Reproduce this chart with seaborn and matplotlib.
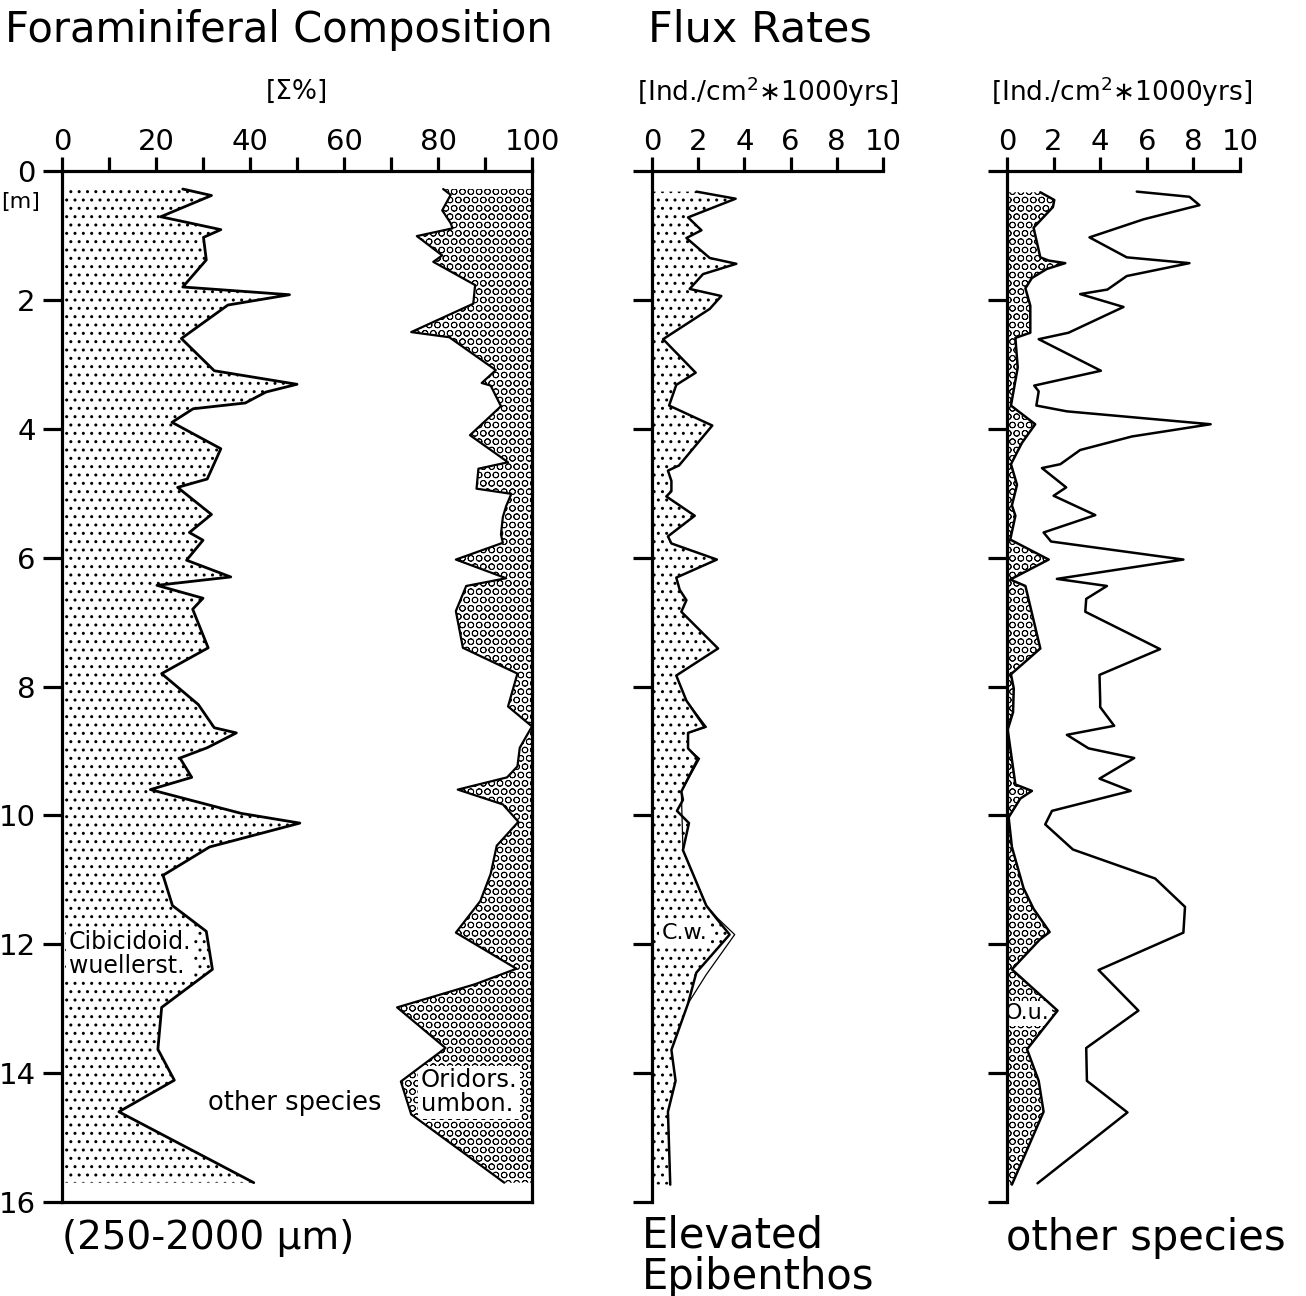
import matplotlib
matplotlib.use('Agg')
import matplotlib.pyplot as plt
import seaborn as sns

# ---- data (depth in m) ----
# Panel 1: Cibicidoides wuellerstorfi, cumulative % from 0
cib_depth = [0.28, 0.38, 0.71, 0.91, 1.03, 1.38, 1.80, 1.92, 2.08, 2.60, 3.10, 3.31, 3.43, 3.60,
             3.69, 3.90, 4.31, 4.78, 4.91, 5.33, 5.61, 5.73, 6.04, 6.30, 6.43, 6.63, 6.80, 7.40,
             7.80, 8.28, 8.64, 8.72, 8.95, 9.11, 9.41, 9.60, 9.86, 9.97, 10.12, 10.49, 10.93,
             11.40, 11.80, 12.39, 12.98, 13.63, 14.11, 14.60, 15.70]
cib_pct = [25.7, 31.8, 21.0, 33.8, 30.1, 30.7, 25.7, 48.4, 35.3, 25.4, 32.4, 50.0, 43.4, 39.0,
           27.9, 23.4, 33.8, 30.9, 24.6, 31.8, 27.1, 30.0, 26.5, 35.9, 20.2, 30.0, 27.8, 31.1,
           21.2, 29.0, 32.4, 37.1, 30.9, 25.1, 27.6, 18.8, 32.4, 38.2, 50.6, 31.4, 21.5,
           23.5, 30.7, 32.0, 21.2, 20.4, 23.9, 12.1, 40.8]

# Panel 1: Oridorsalis umbonatus, left boundary (band runs to 100 %)
ori_depth = [0.28, 0.37, 0.61, 0.81, 0.89, 1.01, 1.31, 1.41, 1.77, 2.06, 2.50, 2.58, 3.09, 3.29,
             3.33, 3.65, 4.10, 4.52, 4.62, 4.93, 5.01, 5.20, 5.37, 5.64, 5.77, 6.03, 6.32, 6.44,
             6.83, 7.40, 7.80, 8.31, 8.62, 8.95, 9.24, 9.41, 9.60, 9.83, 10.10, 10.47, 10.91,
             11.33, 11.82, 12.38, 12.62, 12.98, 13.61, 14.13, 14.64, 15.70]
ori_pct = [81.1, 82.7, 80.9, 82.7, 83.1, 75.5, 80.9, 79.0, 87.9, 87.5, 74.3, 82.4, 92.3, 89.3,
           91.2, 93.4, 86.8, 94.9, 88.6, 88.2, 95.6, 94.5, 93.8, 93.4, 93.8, 83.8, 94.5, 86.0,
           83.8, 85.3, 96.9, 94.9, 100.0, 97.4, 96.9, 94.7, 84.2, 93.8, 97.1, 92.5, 91.2,
           89.0, 83.8, 96.7, 87.9, 71.3, 81.6, 72.1, 74.3, 94.1]

# Panel 2: flux of C. wuellerstorfi and of all elevated epibenthos
cw_depth = [0.32, 0.43, 0.72, 0.92, 1.04, 1.35, 1.44, 1.60, 1.83, 1.94, 2.14, 2.61, 3.13, 3.32,
            3.64, 3.95, 4.57, 4.65, 4.81, 4.97, 5.05, 5.35, 5.67, 5.78, 6.03, 6.31, 6.50, 6.66,
            6.84, 7.41, 7.83, 8.22, 8.63, 8.72, 8.96, 9.12, 9.63, 9.76, 9.93, 10.12, 10.54,
            11.40, 11.60, 11.85, 12.44, 12.92, 13.64, 14.12, 14.60, 15.73]
cw_flux = [1.92, 3.62, 1.56, 2.14, 1.49, 2.50, 3.65, 2.21, 1.63, 3.00, 2.50, 0.48, 1.89, 1.05,
           0.74, 2.61, 1.17, 0.69, 0.84, 0.84, 0.62, 1.85, 0.69, 0.84, 2.81, 1.05, 1.20, 1.49,
           1.27, 2.86, 1.05, 1.49, 2.28, 1.56, 1.56, 1.99, 1.27, 1.34, 1.08, 1.60, 1.34,
           2.35, 2.79, 3.36, 1.92, 1.56, 0.84, 1.02, 0.69, 0.79]
epi_depth = [8.22, 8.63, 8.72, 8.96, 9.12, 9.63, 10.54, 11.40, 11.60, 11.85, 12.47, 12.92]
epi_flux = [1.49, 2.36, 1.56, 1.56, 2.06, 1.27, 1.34, 2.35, 2.85, 3.58, 2.35, 1.56]

# Panel 3: flux of O. umbonatus and of other species
ou_depth = [0.33, 0.45, 0.56, 0.88, 1.34, 1.39, 1.43, 1.52, 1.66, 1.82, 2.09, 2.51, 2.59, 3.05,
            3.64, 3.93, 4.22, 4.55, 4.87, 5.19, 5.35, 5.72, 6.03, 6.34, 6.44, 7.41, 7.81, 8.03,
            8.40, 8.67, 9.52, 9.62, 9.74, 10.03, 10.49, 11.13, 11.45, 11.81, 11.93, 12.39,
            13.03, 13.63, 14.12, 14.60, 15.73]
ou_flux = [1.43, 2.03, 1.97, 1.14, 1.43, 1.79, 2.50, 1.71, 1.07, 0.79, 1.00, 1.00, 0.36, 0.46,
           0.17, 1.21, 0.64, 0.17, 0.43, 0.21, 0.36, 0.14, 1.79, 0.14, 0.79, 1.43, 0.17, 0.29,
           0.26, 0.03, 0.36, 1.07, 0.57, 0.07, 0.21, 0.71, 1.14, 1.83, 1.40, 0.21,
           2.17, 0.86, 1.36, 1.57, 0.21]
oth_depth = [0.32, 0.40, 0.53, 0.75, 1.03, 1.34, 1.43, 1.63, 1.84, 1.91, 2.11, 2.51, 2.61, 3.10,
             3.33, 3.42, 3.64, 3.73, 3.93, 4.12, 4.33, 4.55, 4.61, 4.91, 5.04, 5.34, 5.61, 5.75,
             6.03, 6.33, 6.44, 6.64, 6.84, 7.42, 7.82, 8.22, 8.32, 8.61, 8.75, 8.96, 9.11, 9.43,
             9.62, 9.93, 10.14, 10.53, 10.98, 11.42, 11.82, 12.40, 13.03, 13.61, 14.12, 14.61,
             15.71]
oth_flux = [5.57, 7.83, 8.26, 5.86, 3.54, 5.14, 7.83, 5.14, 4.31, 3.14, 5.00, 2.64, 1.36, 4.03,
            1.17, 1.36, 1.26, 2.57, 8.74, 5.36, 3.14, 2.29, 1.50, 2.54, 2.00, 3.79, 1.57, 1.89,
            7.57, 2.14, 4.29, 3.40, 3.36, 6.57, 3.97, 4.00, 4.00, 4.60, 2.57, 3.50, 5.46, 3.97,
            5.31, 1.93, 1.64, 2.83, 6.36, 7.64, 7.57, 3.93, 5.64, 3.40, 3.43, 5.17, 1.31]

depth_ticks = [0, 2, 4, 6, 8, 10, 12, 14, 16]
pct_ticks = [0, 20, 40, 60, 80, 100]
flux_ticks = [0, 2, 4, 6, 8, 10]

sns.set_style('white')
plt.rcParams['font.family'] = ['DejaVu Sans']
plt.rcParams['hatch.color'] = 'black'

W, H = 1306, 1296
fig = plt.figure(figsize=(W / 100, H / 100), dpi=100)


def px_axes(x0, x1, y0, y1):
    return fig.add_axes([x0 / W, 1 - y1 / H, (x1 - x0) / W, (y1 - y0) / H])


LW = 2.3
TICKFS = 21


def hatched(ax, depth, left, right, hatch, hlw):
    # stipple / circle pattern between two boundaries
    with plt.rc_context({'hatch.linewidth': hlw}):
        poly = ax.fill_betweenx(depth, left, right, facecolor='white', edgecolor='black',
                                hatch=hatch, linewidth=0, zorder=1)
    if hasattr(poly, 'set_hatch_linewidth'):
        poly.set_hatch_linewidth(hlw)
    return poly


def style_axis(ax, xmax, xticks, minor, labels_y, box):
    ax.set_xlim(0, xmax)
    ax.set_ylim(16, 0)
    ax.set_xticks(xticks)
    if minor is not None:
        ax.set_xticks(minor, minor=True)
    ax.set_yticks(depth_ticks)
    ax.xaxis.tick_top()
    ax.tick_params(axis='x', which='both', direction='out', length=10, width=LW, pad=1,
                   labelsize=TICKFS, top=True, bottom=False, colors='black')
    ax.tick_params(axis='y', direction='out', length=14, width=LW, pad=5,
                   labelsize=TICKFS, left=True, labelleft=labels_y, colors='black')
    for side, sp in ax.spines.items():
        sp.set_linewidth(LW)
        sp.set_color('black')
        if not box and side in ('right', 'bottom'):
            sp.set_visible(False)
    ax.set_xlabel('')
    ax.set_ylabel('')


# ---- panel 1: composition ----
ax1 = px_axes(62, 532, 171, 1202)
hatched(ax1, cib_depth, 0, cib_pct, '..', 1.0)
hatched(ax1, ori_depth, ori_pct, 100, 'OO', 0.6)
sns.lineplot(x=cib_pct, y=cib_depth, orient='y', sort=False, estimator=None,
             color='black', linewidth=2.0, ax=ax1, zorder=3)
sns.lineplot(x=ori_pct, y=ori_depth, orient='y', sort=False, estimator=None,
             color='black', linewidth=1.6, ax=ax1, zorder=3)
style_axis(ax1, 100, pct_ticks, [10, 30, 50, 70, 90], True, True)

box = dict(facecolor='white', edgecolor='none', pad=2)
ax1.text(1.5, 12.15, 'Cibicidoid.\nwuellerst.', fontsize=17, ha='left', va='center',
         linespacing=1.0, bbox=box, zorder=2, color='black')
ax1.text(49.5, 14.46, 'other species', fontsize=18.5, ha='center', va='center', zorder=2,
         color='black')
ax1.text(76.3, 14.3, 'Oridors.\numbon.', fontsize=17.5, ha='left', va='center',
         linespacing=1.0, bbox=box, zorder=2, color='black')

# ---- panel 2: elevated epibenthos flux ----
ax2 = px_axes(652, 883, 171, 1202)
hatched(ax2, cw_depth, 0, cw_flux, '..', 1.0)
sns.lineplot(x=epi_flux, y=epi_depth, orient='y', sort=False, estimator=None,
             color='black', linewidth=0.9, ax=ax2, zorder=3)
sns.lineplot(x=cw_flux, y=cw_depth, orient='y', sort=False, estimator=None,
             color='black', linewidth=1.8, ax=ax2, zorder=3)
style_axis(ax2, 10, flux_ticks, None, False, False)
ax2.text(1.4, 11.82, 'C.w.', fontsize=16, ha='center', va='center', bbox=box, zorder=2,
         color='black')

# ---- panel 3: other species flux ----
ax3 = px_axes(1007, 1240, 171, 1202)
hatched(ax3, ou_depth, 0, ou_flux, 'OO', 0.6)
sns.lineplot(x=ou_flux, y=ou_depth, orient='y', sort=False, estimator=None,
             color='black', linewidth=1.8, ax=ax3, zorder=3)
sns.lineplot(x=oth_flux, y=oth_depth, orient='y', sort=False, estimator=None,
             color='black', linewidth=1.8, ax=ax3, zorder=3)
style_axis(ax3, 10, flux_ticks, None, False, False)
ax3.text(0.85, 13.07, 'O.u.', fontsize=16, ha='center', va='center', bbox=box, zorder=2,
         color='black')


# ---- figure text ----
def ftext(x, y, s, **kw):
    fig.text(x / W, 1 - y / H, s, color='black', **kw)


ftext(5, 30, 'Foraminiferal Composition', fontsize=30, ha='left', va='center')
ftext(648, 30, 'Flux Rates', fontsize=31, ha='left', va='center')
ftext(297, 92, '[Σ%]', fontsize=19, ha='center', va='center')
ftext(768, 92, '[Ind./cm$^2$∗1000yrs]', fontsize=19, ha='center', va='center')
ftext(1122, 92, '[Ind./cm$^2$∗1000yrs]', fontsize=19, ha='center', va='center')
ftext(21, 202, '[m]', fontsize=16, ha='center', va='center')
ftext(62, 1238, '(250-2000 µm)', fontsize=28, ha='left', va='center')
ftext(642, 1256, 'Elevated\nEpibenthos', fontsize=30, ha='left', va='center',
      linespacing=1.0)
ftext(1006, 1238, 'other species', fontsize=30, ha='left', va='center')

plt.savefig('out.png', dpi=100)
plt.close()
